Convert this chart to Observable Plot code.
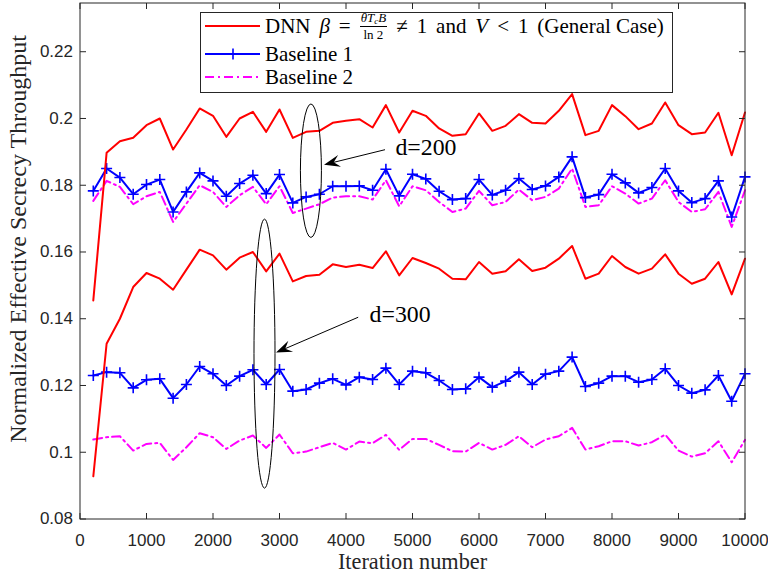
<!DOCTYPE html>
<html><head><meta charset="utf-8">
<script src="https://cdn.jsdelivr.net/npm/d3@7"></script>
<script src="https://cdn.jsdelivr.net/npm/@observablehq/plot@0.6"></script>
<style>
html,body{margin:0;padding:0;background:#fff;}
#wrap{position:relative;width:768px;height:579px;overflow:hidden;}
#legend{position:absolute;left:200px;top:12px;width:471px;height:79px;border:1px solid #262626;background:#fff;color:#000;}
.row{position:absolute;left:4px;display:flex;align-items:center;height:24px;white-space:nowrap;}
.row svg{margin-right:5px;flex:none;}
.mathrow{position:absolute;left:64px;top:0;height:26px;display:flex;align-items:center;white-space:nowrap;gap:0px;}
.frac{display:inline-flex;flex-direction:column;align-items:center;line-height:1;}
.frac .num{border-bottom:1px solid #000;padding:0 1px 1px;}
.frac .den{padding-top:1px;}
</style></head>
<body>
<div id="wrap"></div>
<script>
const iterations = [200,400,600,800,1000,1200,1400,1600,1800,2000,2200,2400,2600,2800,3000,3200,3400,3600,3800,4000,4200,4400,4600,4800,5000,5200,5400,5600,5800,6000,6200,6400,6600,6800,7000,7200,7400,7600,7800,8000,8200,8400,8600,8800,9000,9200,9400,9600,9800,10000];

const dnnD200 = [0.1455,0.1897,0.1932,0.1942,0.198,0.200,0.1907,0.1967,0.203,0.2008,0.1945,0.200,0.202,0.196,0.2027,0.1942,0.196,0.1963,0.1987,0.1993,0.1998,0.1973,0.204,0.1958,0.2023,0.2008,0.197,0.1948,0.1953,0.2015,0.1963,0.1978,0.2013,0.1987,0.1985,0.2023,0.2073,0.195,0.1963,0.204,0.2007,0.1968,0.1985,0.2048,0.198,0.1953,0.1958,0.2017,0.189,0.2018];
const base1D200 = [0.1783,0.185,0.1823,0.1773,0.1802,0.1817,0.172,0.178,0.1837,0.1813,0.1767,0.1805,0.183,0.1775,0.1832,0.1747,0.1765,0.1773,0.1797,0.1797,0.1798,0.1785,0.1848,0.1768,0.1833,0.1819,0.1782,0.1757,0.176,0.1817,0.1771,0.1785,0.182,0.1787,0.1798,0.1825,0.1885,0.1763,0.1772,0.1833,0.1807,0.1777,0.1793,0.185,0.1783,0.1748,0.176,0.1813,0.1705,0.1825];
const base2D200 = [0.1753,0.1813,0.1795,0.1743,0.1767,0.178,0.169,0.1745,0.18,0.178,0.1735,0.177,0.1795,0.1743,0.1797,0.1717,0.173,0.1743,0.1763,0.1767,0.1767,0.1757,0.1815,0.1737,0.1797,0.1785,0.175,0.172,0.173,0.1783,0.174,0.175,0.1787,0.1755,0.1765,0.179,0.185,0.1735,0.174,0.1797,0.1775,0.1745,0.176,0.1815,0.175,0.172,0.1728,0.178,0.1675,0.1785];
const dnnD300 = [0.0928,0.1325,0.14,0.1495,0.1537,0.152,0.1487,0.1547,0.1607,0.159,0.1547,0.1583,0.16,0.1542,0.1595,0.1512,0.1528,0.1532,0.1563,0.1555,0.1562,0.1552,0.1602,0.153,0.1582,0.1567,0.155,0.152,0.1518,0.157,0.1535,0.1542,0.1578,0.1543,0.1553,0.158,0.1618,0.152,0.1535,0.1588,0.1555,0.1535,0.155,0.1593,0.1535,0.1505,0.152,0.157,0.1473,0.158];
const base1D300 = [0.123,0.124,0.1238,0.1193,0.1217,0.122,0.1162,0.1203,0.1257,0.1235,0.12,0.1228,0.1247,0.1203,0.1248,0.1183,0.1188,0.1207,0.122,0.1202,0.1225,0.1218,0.1252,0.1203,0.1243,0.1238,0.1215,0.1188,0.119,0.1225,0.1195,0.1213,0.124,0.1203,0.1234,0.1243,0.1285,0.1197,0.1207,0.1228,0.1228,0.121,0.1218,0.125,0.12,0.1177,0.1187,0.123,0.1153,0.1235];
const base2D300 = [0.1038,0.1045,0.1048,0.1005,0.1025,0.1028,0.0977,0.1015,0.1057,0.1045,0.101,0.1035,0.105,0.1013,0.1053,0.0997,0.1002,0.1015,0.1028,0.1008,0.1032,0.1027,0.1052,0.1007,0.104,0.104,0.1022,0.1003,0.1002,0.1028,0.1008,0.1022,0.1048,0.1015,0.1038,0.1048,0.1073,0.1008,0.1018,0.1033,0.1033,0.102,0.103,0.1053,0.1005,0.0987,0.0997,0.1033,0.097,0.1037];

const xTicks = [0,1000,2000,3000,4000,5000,6000,7000,8000,9000,10000];
const xTickLabels = ["0","1000","2000","3000","4000","5000","6000","7000","8000","9000","10000"];
const yTicks = [0.08,0.10,0.12,0.14,0.16,0.18,0.20,0.22];
const yTickLabels = ["0.08","0.1","0.12","0.14","0.16","0.18","0.2","0.22"];

const xLabel = "Iteration number";
const yLabel = "Normalized Effective Secrecy Throughput";
const seriesNames = ["DNN", "Baseline 1", "Baseline 2"];

// annotations: ellipse centres/radii and arrows (data units)
const ellipseX = [3480, 2782];
const ellipseY = [0.1842, 0.1294];
const ellipseRx = [158, 158];
const ellipseRy = [0.0200, 0.0403];
const arrowFrom = [[4594, 0.1905],[4191, 0.1403]];
const arrowTo = [[3677, 0.1860],[2955, 0.1297]];
const noteText = ["d=200", "d=300"];
const noteX = [4744, 4355];
const noteY = [0.1914, 0.1412];

const RED = "#ff0000", BLUE = "#0000ff", MAGENTA = "#ff00ff";
const SERIF = "'Liberation Serif','Times New Roman','DejaVu Serif',serif";
const ns = "http://www.w3.org/2000/svg";

const measureCtx = document.createElement("canvas").getContext("2d");
function textWidth(text, family, size, style = "") {
  measureCtx.font = `${style} ${size}px ${family}`;
  return measureCtx.measureText(text).width;
}
function fitSize(text, family, target) {
  return Math.round(1000 * target / textWidth(text, family, 100)) / 10;
}
const xLabelSize = fitSize(xLabel, SERIF, 149);
const yLabelSize = fitSize(yLabel, SERIF, 408);
const noteSize = fitSize("d=200", SERIF, 61);
const legendSize = fitSize("Baseline 1", SERIF, 88);

const rows = (ys) => iterations.map((x, i) => ({x, y: ys[i]}));
const d200 = {dnn: rows(dnnD200), b1: rows(base1D200), b2: rows(base2D200)};
const d300 = {dnn: rows(dnnD300), b1: rows(base1D300), b2: rows(base2D300)};
const notes = noteText.map((t, i) => ({t, x: noteX[i], y: noteY[i]}));

const plusSymbol = {
  draw(ctx, size) {
    const r = Math.sqrt(size / Math.PI);
    ctx.moveTo(-r, 0); ctx.lineTo(r, 0);
    ctx.moveTo(0, -r); ctx.lineTo(0, r);
  }
};

function tickMarks(index, scales, values, dims) {
  const {x, y} = scales;
  const x0 = dims.marginLeft + 0.5, x1 = dims.width - dims.marginRight + 0.5;
  const y0 = dims.marginTop + 0.5, y1 = dims.height - dims.marginBottom + 0.5;
  let d = "";
  for (const t of xTicks) { const px = x(t) + 0.5; d += `M${px},${y1}v-6M${px},${y0}v6`; }
  for (const t of yTicks) { const py = y(t) + 0.5; d += `M${x0},${py}h6M${x1},${py}h-6`; }
  const p = document.createElementNS(ns, "path");
  p.setAttribute("d", d);
  p.setAttribute("stroke", "#262626");
  p.setAttribute("fill", "none");
  p.setAttribute("stroke-width", "1");
  return p;
}

function annotations(index, scales) {
  const {x, y} = scales;
  const g = document.createElementNS(ns, "g");
  for (let i = 0; i < ellipseX.length; i++) {
    const e = document.createElementNS(ns, "ellipse");
    const cx = x(ellipseX[i]), cy = y(ellipseY[i]);
    e.setAttribute("cx", cx); e.setAttribute("cy", cy);
    e.setAttribute("rx", Math.abs(x(ellipseX[i] + ellipseRx[i]) - cx));
    e.setAttribute("ry", Math.abs(y(ellipseY[i] + ellipseRy[i]) - cy));
    e.setAttribute("fill", "none"); e.setAttribute("stroke", "#000"); e.setAttribute("stroke-width", "1");
    g.appendChild(e);
  }
  for (let i = 0; i < arrowFrom.length; i++) {
    const ax = x(arrowFrom[i][0]), ay = y(arrowFrom[i][1]);
    const bx = x(arrowTo[i][0]), by = y(arrowTo[i][1]);
    const ang = Math.atan2(by - ay, bx - ax);
    const L = 16, W = 6, notch = 10;
    const ux = Math.cos(ang), uy = Math.sin(ang), vx = -uy, vy = ux;
    const baseX = bx - ux * L, baseY = by - uy * L;
    const nX = bx - ux * notch, nY = by - uy * notch;
    const line = document.createElementNS(ns, "path");
    line.setAttribute("d", `M${ax},${ay}L${nX},${nY}`);
    line.setAttribute("stroke", "#000"); line.setAttribute("stroke-width", "1");
    g.appendChild(line);
    const head = document.createElementNS(ns, "path");
    head.setAttribute("d", `M${bx},${by}L${baseX + vx * W},${baseY + vy * W}L${nX},${nY}L${baseX - vx * W},${baseY - vy * W}Z`);
    head.setAttribute("fill", "#000");
    g.appendChild(head);
  }
  return g;
}

const chart = Plot.plot({
  width: 768, height: 579,
  marginLeft: 79.5, marginRight: 23.5, marginTop: 2.5, marginBottom: 60.5,
  x: {domain: [0, 10000]},
  y: {domain: [0.08, 0.2346]},
  style: {fontFamily: "'Liberation Sans', Arial, sans-serif", fontSize: "17px", color: "#262626", background: "#fff", overflow: "visible"},
  marks: [
    Plot.line(d200.b2, {x: "x", y: "y", stroke: MAGENTA, strokeWidth: 2, strokeDasharray: "9,4,2,4"}),
    Plot.line(d300.b2, {x: "x", y: "y", stroke: MAGENTA, strokeWidth: 2, strokeDasharray: "9,4,2,4"}),
    Plot.line(d200.b1, {x: "x", y: "y", stroke: BLUE, strokeWidth: 2}),
    Plot.dot(d200.b1, {x: "x", y: "y", symbol: plusSymbol, r: 5.5, stroke: BLUE, fill: "none", strokeWidth: 1.6}),
    Plot.line(d300.b1, {x: "x", y: "y", stroke: BLUE, strokeWidth: 2}),
    Plot.dot(d300.b1, {x: "x", y: "y", symbol: plusSymbol, r: 5.5, stroke: BLUE, fill: "none", strokeWidth: 1.6}),
    Plot.line(d200.dnn, {x: "x", y: "y", stroke: RED, strokeWidth: 2}),
    Plot.line(d300.dnn, {x: "x", y: "y", stroke: RED, strokeWidth: 2}),
    Plot.frame({stroke: "#262626"}),
    tickMarks,
    Plot.axisX({ticks: xTicks, tickSize: 0, tickPadding: 15, tickFormat: (d) => xTickLabels[xTicks.indexOf(d)], label: null, fill: "#262626"}),
    Plot.axisY({ticks: yTicks, tickSize: 0, tickPadding: 7, tickFormat: (d) => yTickLabels[yTicks.findIndex(t => Math.abs(t - d) < 1e-9)], label: null, fill: "#262626"}),
    Plot.text([xLabel], {frameAnchor: "bottom", lineAnchor: "middle", dy: 43, textAnchor: "middle", fontFamily: SERIF, fontSize: xLabelSize, fill: "#262626"}),
    Plot.text([yLabel], {frameAnchor: "left", lineAnchor: "middle", textAnchor: "middle", rotate: -90, dx: -62, dy: -22, fontFamily: SERIF, fontSize: yLabelSize, fill: "#262626"}),
    annotations,
    Plot.text(notes, {x: "x", y: "y", text: "t", textAnchor: "start", lineAnchor: "middle", fontFamily: SERIF, fontSize: noteSize, fill: "#000"})
  ]
});

const wrap = document.getElementById("wrap");
wrap.appendChild(chart);

// ---- legend (HTML overlay inside the plot frame) ----
const legend = document.createElement("div");
legend.id = "legend";
legend.style.fontFamily = SERIF;
legend.style.fontSize = legendSize + "px";
const fracSize = Math.round(legendSize * 0.62);
const sample = (color, dash, marker) => `<svg width="55" height="16"><line x1="0" x2="55" y1="8" y2="8" stroke="${color}" stroke-width="2" ${dash ? `stroke-dasharray="${dash}"` : ""}/>${marker ? `<path d="M22.5,8h11M28,2.5v11" stroke="${color}" stroke-width="1.6"/>` : ""}</svg>`;

legend.innerHTML = `
<div class="row" style="top:1px">${sample(RED)}</div>
<div class="mathrow" id="mathrow">
  <span>${seriesNames[0]}</span><span><i>β</i></span><span>=</span>
  <span class="frac" style="font-size:${fracSize}px"><span class="num"><i>θT</i><sub style="font-size:0.7em;vertical-align:-0.2em"><i>c</i></sub><i>B</i></span><span class="den">ln 2</span></span>
  <span>≠</span><span>1</span><span>and</span><span><i>V</i></span><span>&lt;</span><span>1</span><span>(General Case)</span>
</div>
<div class="row" style="top:29px">${sample(BLUE, null, true)}<span>${seriesNames[1]}</span></div>
<div class="row" style="top:52px">${sample(MAGENTA, "9,4,2,4")}<span>${seriesNames[2]}</span></div>`;
wrap.appendChild(legend);

// spread the first entry so that it spans the same width as in the reference (x 264 → 663)
const mathrow = document.getElementById("mathrow");
const natural = mathrow.getBoundingClientRect().width;
const nGaps = mathrow.children.length - 1;
mathrow.style.gap = Math.max(3, (399 - natural) / nGaps).toFixed(2) + "px";
</script>
</body></html>
